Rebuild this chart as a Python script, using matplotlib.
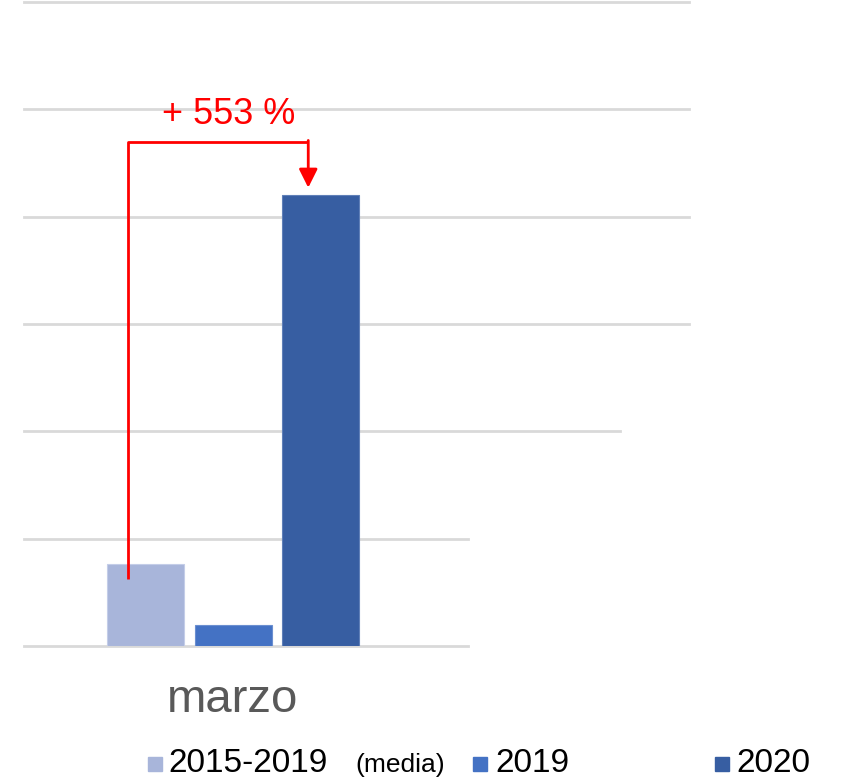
import matplotlib.pyplot as plt
from matplotlib.patches import Rectangle

# datos (escala arbitraria, 1 unidad = 1 línea de rejilla)
categoria = 'marzo'
series = ['2015-2019', '2019', '2020']
valores = [0.76, 0.20, 4.20]
colores = ['#A8B5DA', '#4472C4', '#375EA2']
incremento = '+ 553 %'
rejilla = [0, 1, 2, 3, 4, 5, 6]
largo_rejilla = [0.668, 0.668, 0.896, 1.0, 1.0, 1.0, 1.0]

W, H = 843, 779
fig = plt.figure(figsize=(W / 100, H / 100), dpi=100)
ax = fig.add_axes([24 / W, 1 - 646 / H, 665 / W, 644 / H])

for y, largo in zip(rejilla, largo_rejilla):
    ax.axhline(y, xmin=0, xmax=largo, color='#d9d9d9', lw=2, zorder=0, clip_on=False)

posiciones = [-1, 0, 1]
ax.bar(posiciones, valores, width=0.88, color=colores,
       edgecolor=['#c4cde8', '#6b8fd0', '#6080b8'], linewidth=0.8, zorder=2)

ax.set_xlim(-209 / 87.5, 456 / 87.5)
ax.set_ylim(0, 6)
ax.axis('off')

# flecha roja de la comparación
x0 = posiciones[0] - 0.2
x1 = posiciones[2] - 0.14
y_arriba = max(valores) + 0.5
ax.plot([x0, x0, x1], [valores[0] - 0.14, y_arriba, y_arriba],
        color='red', lw=2, zorder=3, solid_capstyle='butt')
ax.annotate('', xy=(x1, valores[2] + 0.07), xytext=(x1, y_arriba + 0.01),
            arrowprops=dict(arrowstyle='-|>', color='red', lw=2,
                            mutation_scale=28, shrinkA=0, shrinkB=0),
            zorder=3)
ax.text(-0.05, y_arriba + 0.16, incremento, color='red', fontsize=26,
        family='Liberation Sans', ha='center', va='baseline')

# etiqueta de la categoría
ax.text(0, -0.5, categoria, color='#595959', fontsize=34,
        family='Liberation Sans', ha='center', va='center', clip_on=False)

# leyenda manual
caja_x = [148, 473, 715]
texto_x = [168, 495, 736]
y_leyenda = 1 - 764 / H
for cx, tx, nombre, col in zip(caja_x, texto_x, series, colores):
    fig.patches.append(Rectangle((cx / W, 1 - 771 / H), 14 / W, 14 / H,
                                 color=col, transform=fig.transFigure))
    fig.text(tx / W, y_leyenda, nombre, fontsize=24, family='Liberation Sans',
             va='center', ha='left', color='black')
fig.text(355 / W, y_leyenda - 0.001, '(media)', fontsize=19,
         family='Liberation Sans', va='center', ha='left', color='black')

fig.savefig('out.png', dpi=100)
